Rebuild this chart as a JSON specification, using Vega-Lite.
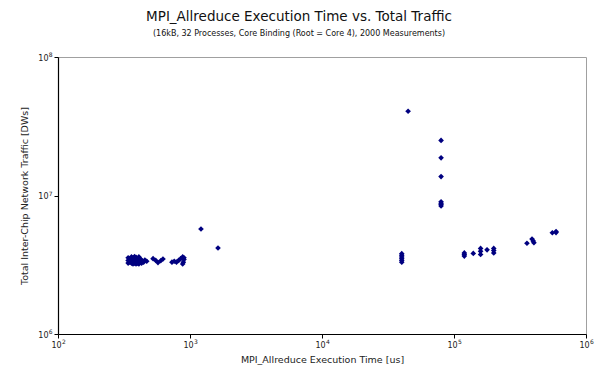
{
  "$schema": "https://vega.github.io/schema/vega-lite/v6.json",
  "autosize": {"type": "none"},
  "padding": {"left": 58, "top": 57, "right": 12, "bottom": 44},
  "width": 528,
  "height": 277,
  "background": "white",
  "config": {
    "font": "DejaVu Sans",
    "view": {"stroke": "#a0a0a0", "strokeWidth": 1},
    "axis": {"grid": false, "domainColor": "black", "tickColor": "black", "domainWidth": 1.2, "tickSize": 4, "labelColor": "#222", "titleColor": "#222", "labelFontSize": 8, "titleFontSize": 9.5, "titleFontWeight": "normal", "labelFont": "DejaVu Sans", "titleFont": "DejaVu Sans", "labelFlush": false, "labelOverlap": false}
  },
  "title": {
    "text": "MPI_Allreduce Execution Time vs. Total Traffic",
    "subtitle": "(16kB, 32 Processes, Core Binding (Root = Core 4), 2000 Measurements)",
    "fontSize": 13.5,
    "fontWeight": "normal",
    "subtitleFontSize": 8,
    "color": "#111",
    "subtitleColor": "#111",
    "anchor": "middle",
    "dx": -23,
    "offset": 14,
    "subtitlePadding": 6
  },
  "data": {
    "values": [
      {"t": 340, "traffic": 3250000}, {"t": 340, "traffic": 3400000}, {"t": 340, "traffic": 3550000},
      {"t": 350, "traffic": 3300000}, {"t": 350, "traffic": 3500000},
      {"t": 360, "traffic": 3250000}, {"t": 360, "traffic": 3350000}, {"t": 360, "traffic": 3450000}, {"t": 360, "traffic": 3600000},
      {"t": 370, "traffic": 3200000}, {"t": 370, "traffic": 3400000}, {"t": 370, "traffic": 3550000},
      {"t": 380, "traffic": 3250000}, {"t": 380, "traffic": 3350000}, {"t": 380, "traffic": 3500000}, {"t": 380, "traffic": 3620000},
      {"t": 390, "traffic": 3200000}, {"t": 390, "traffic": 3420000}, {"t": 390, "traffic": 3580000},
      {"t": 400, "traffic": 3250000}, {"t": 400, "traffic": 3350000}, {"t": 400, "traffic": 3500000},
      {"t": 410, "traffic": 3200000}, {"t": 410, "traffic": 3420000}, {"t": 410, "traffic": 3600000},
      {"t": 420, "traffic": 3300000}, {"t": 420, "traffic": 3500000},
      {"t": 430, "traffic": 3250000}, {"t": 430, "traffic": 3400000},
      {"t": 445, "traffic": 3300000}, {"t": 455, "traffic": 3420000}, {"t": 470, "traffic": 3350000},
      {"t": 525, "traffic": 3500000}, {"t": 550, "traffic": 3400000}, {"t": 572, "traffic": 3280000},
      {"t": 600, "traffic": 3380000}, {"t": 624, "traffic": 3480000},
      {"t": 730, "traffic": 3300000}, {"t": 760, "traffic": 3350000}, {"t": 790, "traffic": 3300000},
      {"t": 820, "traffic": 3400000}, {"t": 850, "traffic": 3500000}, {"t": 880, "traffic": 3600000},
      {"t": 890, "traffic": 3300000}, {"t": 900, "traffic": 3450000}, {"t": 880, "traffic": 3200000},
      {"t": 900, "traffic": 3550000},
      {"t": 1211, "traffic": 5730000},
      {"t": 1630, "traffic": 4180000},
      {"t": 40200, "traffic": 3300000}, {"t": 40200, "traffic": 3400000}, {"t": 40200, "traffic": 3500000},
      {"t": 40200, "traffic": 3600000}, {"t": 40200, "traffic": 3700000}, {"t": 40200, "traffic": 3800000},
      {"t": 44900, "traffic": 40600000},
      {"t": 79800, "traffic": 25000000}, {"t": 79800, "traffic": 18700000}, {"t": 79800, "traffic": 13700000},
      {"t": 79800, "traffic": 8400000}, {"t": 79800, "traffic": 8600000}, {"t": 79800, "traffic": 8800000}, {"t": 79800, "traffic": 9000000},
      {"t": 119700, "traffic": 3650000}, {"t": 119700, "traffic": 3750000}, {"t": 119700, "traffic": 3850000},
      {"t": 140000, "traffic": 3820000},
      {"t": 159000, "traffic": 3750000}, {"t": 159000, "traffic": 3950000}, {"t": 159000, "traffic": 4150000},
      {"t": 178000, "traffic": 4050000},
      {"t": 200000, "traffic": 3850000}, {"t": 200000, "traffic": 4000000}, {"t": 200000, "traffic": 4150000},
      {"t": 357000, "traffic": 4520000},
      {"t": 390000, "traffic": 4850000}, {"t": 403000, "traffic": 4560000}, {"t": 398000, "traffic": 4700000},
      {"t": 556000, "traffic": 5380000}, {"t": 593000, "traffic": 5500000}, {"t": 593000, "traffic": 5400000}
    ]
  },
  "layer": [
    {
      "mark": {"type": "point", "shape": "diamond", "filled": true, "size": 32, "color": "#000080", "opacity": 1},
      "encoding": {
        "x": {
          "field": "t", "type": "quantitative",
          "scale": {"type": "log", "domain": [100, 1000000], "nice": false},
          "axis": {"orient": "bottom", "values": [100, 1000, 10000, 100000, 1000000], "title": "MPI_Allreduce Execution Time [us]",
                   "labelExpr": "'10'", "labelOffset": -2, "titlePadding": 5, "labelPadding": 3}
        },
        "y": {
          "field": "traffic", "type": "quantitative",
          "scale": {"type": "log", "domain": [1000000, 100000000], "nice": false},
          "axis": {"orient": "left", "values": [1000000, 10000000, 100000000], "title": "Total Inter-Chip Network Traffic [DWs]",
                   "labelExpr": "'10'", "labelOffset": 1, "titlePadding": 8, "labelPadding": 6}
        }
      }
    },
    {
      "mark": {"type": "point", "opacity": 0},
      "encoding": {
        "x": {
          "field": "t", "type": "quantitative",
          "axis": {"orient": "bottom", "values": [100, 1000, 10000, 100000, 1000000], "title": null, "domain": false, "ticks": false,
                   "labelExpr": "format(log(datum.value) / log(10), '.0f')", "labelFontSize": 6,
                   "labelOffset": 5.5, "labelPadding": 4}
        },
        "y": {
          "field": "traffic", "type": "quantitative",
          "axis": {"orient": "left", "values": [1000000, 10000000, 100000000], "title": null, "domain": false, "ticks": false,
                   "labelExpr": "format(log(datum.value) / log(10), '.0f')", "labelFontSize": 6,
                   "labelOffset": -2.5, "labelPadding": 6}
        }
      }
    }
  ],
  "resolve": {"axis": {"x": "independent", "y": "independent"}}
}
